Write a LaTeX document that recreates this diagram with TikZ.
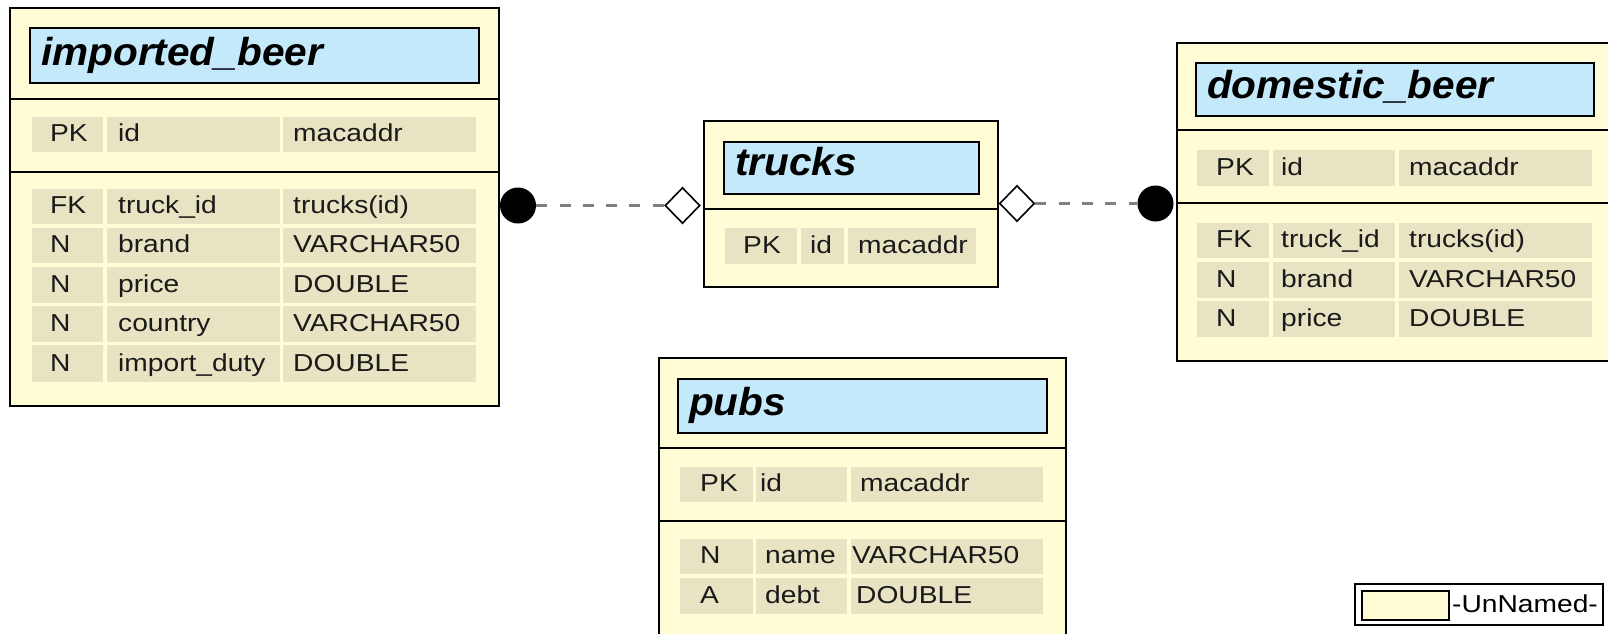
\documentclass[tikz,border=0pt]{standalone}
\usepackage{fontspec}
\usetikzlibrary{shapes.geometric}

% Fonts: a slightly widened grotesque for the table contents and headings
\newfontfamily\cellfont{Liberation Sans}[FakeStretch=1.15]
\newfontfamily\headfont{Liberation Sans}[FakeStretch=1.04]

\definecolor{tablecream}{HTML}{FFFCD6}
\definecolor{headblue}{HTML}{C4E9FB}
\definecolor{cellbeige}{HTML}{E8E4C3}
\definecolor{linkgray}{HTML}{808080}
\definecolor{celltextcol}{HTML}{1A1A1A}

\tikzset{
  tablebox/.style={draw=black, line width=2.2pt, fill=tablecream, inner sep=0pt, anchor=north west},
  headbox/.style={draw=black, line width=2pt, fill=headblue, inner sep=0pt, anchor=north west},
  headtext/.style={inner sep=0pt, anchor=base west, font=\headfont\bfseries\itshape\fontsize{39}{44}\selectfont},
  celltext/.style={inner sep=0pt, anchor=base west, text=celltextcol, font=\cellfont\fontsize{24.5}{28}\selectfont},
  cellfill/.style={fill=cellbeige},
  sepline/.style={draw=black, line width=2pt},
  onedot/.style={circle, fill=black, inner sep=0pt, minimum size=36pt},
  diamondend/.style={diamond, draw=black, fill=white, line width=1.6pt, inner sep=0pt, minimum width=35pt, minimum height=36pt},
  link/.style={draw=linkgray, line width=3pt, dash pattern=on 11pt off 12.3pt},
}

% box node spanning (x1,y1)-(x2,y2):  style, name, x1, y1, x2, y2
\newcommand\spanbox[6]{%
  \node[#1, minimum width={(#5)-(#3)}, minimum height={(#6)-(#4)}] (#2) at (#3,#4) {};}

% one row of three cells: name, top, bottom, key, column, type
\newcommand\cellrow[6]{%
  \fill[cellfill] (\cA,#2) rectangle (\cAe,#3);
  \fill[cellfill] (\cB,#2) rectangle (\cBe,#3);
  \fill[cellfill] (\cC,#2) rectangle (\cCe,#3);
  \node[celltext] (#1k) at (\tA,#3-10.5) {#4};
  \node[celltext] (#1n) at (\tB,#3-10.5) {#5};
  \node[celltext] (#1t) at (\tC,#3-10.5) {#6};}

\begin{document}
\begin{tikzpicture}[x=1pt, y=-1pt]
\useasboundingbox (0,0) rectangle (1608,633);
\clip (0,0) rectangle (1608,633);

% ---------------- imported_beer ----------------
\spanbox{tablebox}{imported}{9}{7}{498}{405}
\spanbox{headbox}{importedhead}{29}{27}{478}{82}
\node[headtext] (importedname) at (41,65) {imported\_beer};
\draw[sepline] (9,99) -- (498,99);
\draw[sepline] (9,172) -- (498,172);
\def\cA{32}\def\cAe{103}\def\cB{107}\def\cBe{280}\def\cC{283}\def\cCe{476}
\def\tA{50}\def\tB{118}\def\tC{293}
\cellrow{ipk}{117}{152}{PK}{id}{macaddr}
\cellrow{ia}{189}{224}{FK}{truck\_id}{trucks(id)}
\cellrow{ib}{228}{263}{N}{brand}{VARCHAR50}
\cellrow{ic}{267}{303}{N}{price}{DOUBLE}
\cellrow{id}{306}{342}{N}{country}{VARCHAR50}
\cellrow{ie}{345}{382}{N}{import\_duty}{DOUBLE}

% ---------------- trucks ----------------
\spanbox{tablebox}{trucks}{703}{120}{997}{286}
\spanbox{headbox}{truckshead}{723}{141}{978}{193}
\node[headtext] (trucksname) at (735,175) {trucks};
\draw[sepline] (703,209) -- (997,209);
\def\cA{725}\def\cAe{797}\def\cB{801}\def\cBe{844}\def\cC{848}\def\cCe{976}
\def\tA{743}\def\tB{810}\def\tC{858}
\cellrow{tpk}{228}{264}{PK}{id}{macaddr}

% ---------------- domestic_beer ----------------
\spanbox{tablebox}{domestic}{1176}{42}{1613}{360}
\spanbox{headbox}{domestichead}{1195}{62}{1593}{115}
\node[headtext] (domesticname) at (1207,98) {domestic\_beer};
\draw[sepline] (1176,130) -- (1613,130);
\draw[sepline] (1176,203) -- (1613,203);
\def\cA{1197}\def\cAe{1269}\def\cB{1273}\def\cBe{1395}\def\cC{1399}\def\cCe{1592}
\def\tA{1216}\def\tB{1281}\def\tC{1409}
\cellrow{dpk}{150}{186}{PK}{id}{macaddr}
\cellrow{da}{223}{258}{FK}{truck\_id}{trucks(id)}
\cellrow{db}{262}{298}{N}{brand}{VARCHAR50}
\cellrow{dc}{301}{337}{N}{price}{DOUBLE}

% ---------------- pubs ----------------
\spanbox{tablebox}{pubs}{658}{357}{1065}{640}
\spanbox{headbox}{pubshead}{677}{378}{1046}{432}
\node[headtext] (pubsname) at (689,415) {pubs};
\draw[sepline] (658,448) -- (1065,448);
\draw[sepline] (658,521) -- (1065,521);
\def\cA{680}\def\cAe{753}\def\cB{756}\def\cBe{847}\def\cC{851}\def\cCe{1043}
\def\tA{700}\def\tB{760}\def\tC{860}
\cellrow{ppk}{467}{502}{PK}{id}{macaddr}
\def\tB{765}\def\tC{852}
\cellrow{pa}{539}{574}{N}{name}{VARCHAR50}
\def\tC{856}
\cellrow{pb}{578}{614}{A}{debt}{DOUBLE}

% ---------------- relationships ----------------
\node[onedot] (imported dot) at (518,205.5) {};
\node[diamondend] (trucks left) at (682.5,205.5) {};
\draw[link] (imported dot) -- (trucks left);

\node[diamondend] (trucks right) at (1017,203.5) {};
\node[onedot] (domestic dot) at (1155.5,203.5) {};
\draw[link] (trucks right) -- (domestic dot);

% ---------------- legend ----------------
\spanbox{draw=black, line width=2pt, fill=white, inner sep=0pt, anchor=north west}{legend}{1354}{583}{1602}{624}
\spanbox{draw=black, line width=2pt, fill=tablecream, inner sep=0pt, anchor=north west}{legendswatch}{1361}{590}{1448}{619}
\node[celltext, text=black] (legendtext) at (1452,612.5) {-UnNamed-};
\end{tikzpicture}
\end{document}
